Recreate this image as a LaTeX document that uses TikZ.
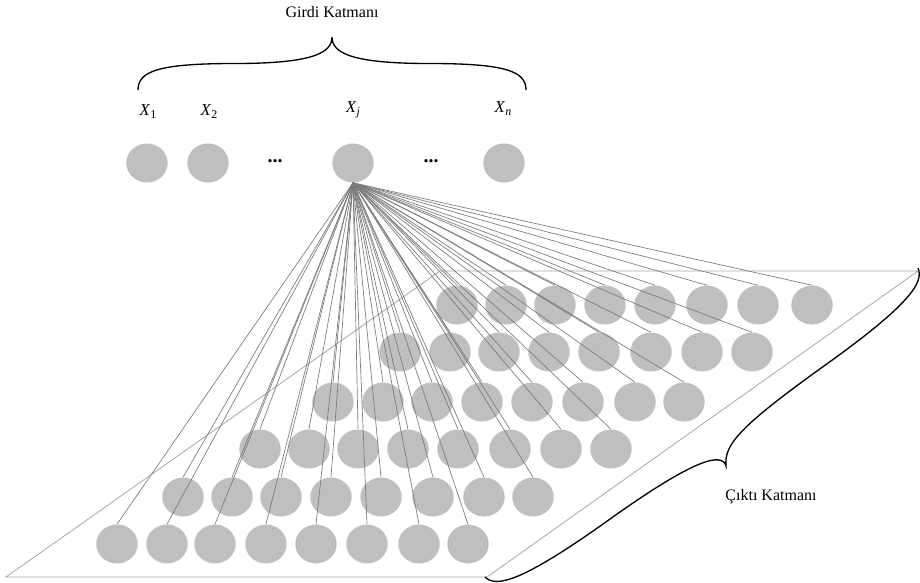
\documentclass[tikz,border=0pt]{standalone}
\usepackage{fontspec}
\setmainfont{Liberation Serif}
\usetikzlibrary{shapes.geometric}
\definecolor{neurongray}{HTML}{BFBFBF}
\definecolor{linkgray}{HTML}{7A7A7A}
\definecolor{framegray}{HTML}{A6A6A6}
\newcommand{\xsub}[1]{\textit{X}\raisebox{-0.4ex}{\fontsize{9}{10}\selectfont #1}}
\begin{document}
\begin{tikzpicture}[x=0.75pt,y=-0.75pt,
  neuron/.style={ellipse, fill=neurongray, draw=none, minimum width=31.1pt, minimum height=29.25pt, inner sep=0pt},
  link/.style={draw=linkgray, line width=0.5pt},
  frame/.style={draw=framegray, line width=0.6pt},
  bracestyle/.style={draw=black, line width=1pt},
  lbl/.style={font=\fontsize{12}{14}\selectfont, inner sep=0pt},
  xlbl/.style={font=\fontsize{12.5}{14}\selectfont, inner sep=0pt},
  dots/.style={font=\fontsize{15}{16}\selectfont\bfseries, inner sep=0pt}]
\useasboundingbox (0,0) rectangle (920,582);

% output layer frame
\coordinate (tl) at (440,271);
\coordinate (tr) at (918,271);
\coordinate (br) at (487,577);
\coordinate (bl) at (6,577);
\draw[frame] (tl) -- (tr) -- (br) -- (bl) -- cycle;

% input layer
\node[neuron] (x1) at (147,163) {};
\node[neuron] (x2) at (208,163) {};
\node[neuron] (xj) at (353,163) {};
\node[neuron] (xn) at (504,163) {};
\node[dots] (d1) at (275,161) {...};
\node[dots] (d2) at (431,161) {...};

\node[xlbl] (l1) at (148,112) {\xsub{1}};
\node[xlbl] (l2) at (209,112) {\xsub{2}};
\node[xlbl] (lj) at (353,110) {\xsub{\textit{j}}};
\node[xlbl] (ln) at (503,109) {\xsub{\textit{n}}};

% output neurons
\foreach \r/\yy/\xl in {
  1/305/{457,506,555,605,655,707,758,812},
  2/352/{400,450,499,549,599,651,702,752},
  3/402/{333,383,432,482,532,583,635,684},
  4/449/{260,309,358,408,458,510,561,611},
  5/497/{183,232,281,331,381,433,484,533},
  6/544/{117,167,215,266,316,367,419,468}}{
  \foreach \xx [count=\c] in \xl {
    \node[neuron] (o-\r-\c) at (\xx,\yy) {};
  }
}

% connections from X_j
\foreach \r in {1,...,6}{
  \foreach \c in {1,...,8}{
    \draw[link] (xj.south) -- (o-\r-\c.north);
  }
}

% top brace
\coordinate (ba) at (138,90);
\coordinate (bb) at (526,90);
\draw[bracestyle] (ba) .. controls (138,71.5) and (157.4,63.5) .. (235,63.5)
  .. controls (312.6,63.5) and (332,52.9) .. (332,37)
  .. controls (332,52.9) and (351.4,63.5) .. (429,63.5)
  .. controls (506.6,63.5) and (526,71.5) .. (bb);
\node[lbl] (girdi) at (332,12) {Girdi Katmanı};

% right brace
\coordinate (ra) at (918,268);
\coordinate (rb) at (485,577);
\draw[bracestyle] (ra) .. controls (924,282) and (911,303.8) .. (824.5,365.6)
  .. controls (738.2,427.4) and (724,445) .. (726,466)
  .. controls (722,452) and (695,458.3) .. (608.5,520.1)
  .. controls (522,581.9) and (496,588) .. (rb);
\node[lbl] (cikti) at (771,497) {Çıktı Katmanı};
\end{tikzpicture}
\end{document}
